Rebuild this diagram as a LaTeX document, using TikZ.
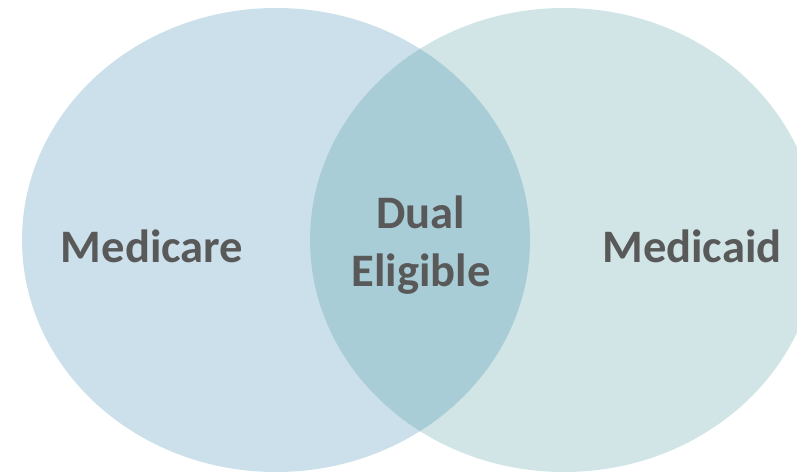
\documentclass[tikz,border=0pt]{standalone}
\usepackage{fontspec}
\setmainfont{Carlito}
\usepackage{xcolor}
\usepackage{tikz}
\usetikzlibrary{positioning}
\definecolor{careblue}{HTML}{CCE0EB}
\definecolor{caidteal}{HTML}{D1E4E6}
\definecolor{dualblue}{HTML}{A9CDD6}
\definecolor{labelgray}{HTML}{595959}

\begin{document}
\begin{tikzpicture}[
    x=0.02cm, y=-0.02cm,
    label/.style={text=labelgray, font=\fontsize{26.5}{33}\selectfont\bfseries, align=center, inner sep=0pt},
]
    \useasboundingbox (0,0) rectangle (797,472);
    \clip (0,0) rectangle (797,472);

    % Circles
    \fill[careblue] (276,240) ellipse [x radius=254, y radius=232];
    \fill[caidteal] (564,240) ellipse [x radius=254, y radius=232];
    \begin{scope}
        \clip (276,240) ellipse [x radius=254, y radius=232];
        \fill[dualblue] (564,240) ellipse [x radius=254, y radius=232];
    \end{scope}

    % Labels
    \node[label, anchor=base] (medicare) at (152,263) {Medicare};
    \node[label, anchor=base] (medicaid) at (692,263) {Medicaid};
    \node[label] (dual) at (421,245) {Dual\\Eligible};
\end{tikzpicture}
\end{document}
